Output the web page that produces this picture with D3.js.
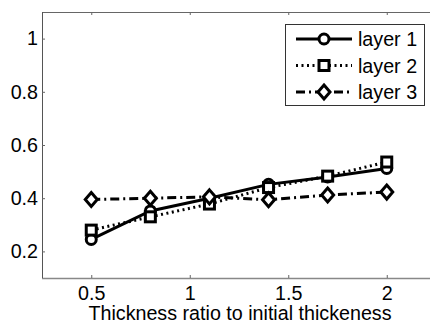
<!DOCTYPE html>
<html><head><meta charset="utf-8">
<script src="https://cdn.jsdelivr.net/npm/d3@7"></script>
<style>body{margin:0;background:#fff}svg{display:block}</style>
</head><body>
<svg id="c" width="430" height="327"></svg>
<script>
const xValues = [0.5, 0.8, 1.1, 1.4, 1.7, 2.0];
const layer1 = [0.245, 0.352, 0.400, 0.452, 0.480, 0.512];
const layer2 = [0.280, 0.330, 0.378, 0.440, 0.483, 0.536];
const layer3 = [0.395, 0.400, 0.405, 0.394, 0.412, 0.423];
const seriesNames = ["layer 1", "layer 2", "layer 3"];
const xTicks = [0.5, 1, 1.5, 2];
const yTicks = [0.2, 0.4, 0.6, 0.8, 1];
const xLabel = "Thickness ratio to initial thickeness";

const svg = d3.select("#c");
const L = 42, R = 436, T = 12, B = 278;
const x = d3.scaleLinear().domain([0.25, 2.25]).range([L, R]);
const y = d3.scaleLinear().domain([0.1, 1.1]).range([B, T]);
const font = "Liberation Sans, Arial, sans-serif";
const fs = 19.7;

// axes box
const ax = svg.append("g");
ax.append("line").attr("x1", L).attr("x2", R).attr("y1", T + 0.5).attr("y2", T + 0.5).attr("stroke", "#666").attr("stroke-width", 1);
ax.append("line").attr("x1", L).attr("x2", R).attr("y1", B + 0.5).attr("y2", B + 0.5).attr("stroke", "#888").attr("stroke-width", 1.5);
ax.append("line").attr("x1", L + 0.5).attr("x2", L + 0.5).attr("y1", T).attr("y2", B).attr("stroke", "#555").attr("stroke-width", 1);

const xb = svg.append("g").attr("transform", `translate(0,${B})`)
  .call(d3.axisBottom(x).tickValues(xTicks).tickSize(-3).tickPadding(8).tickFormat(d3.format("")));
const xt = svg.append("g").attr("transform", `translate(0,${T})`)
  .call(d3.axisTop(x).tickValues(xTicks).tickSize(-3).tickFormat(""));
const yl = svg.append("g").attr("transform", `translate(${L},0)`)
  .call(d3.axisLeft(y).tickValues(yTicks).tickSize(-3).tickPadding(4).tickFormat(d3.format("")));
[xb, xt, yl].forEach(g => {
  g.select(".domain").remove();
  g.selectAll(".tick line").attr("stroke", "#666");
  g.selectAll("text").attr("font-family", font).attr("font-size", fs).attr("fill", "#000");
});
xb.selectAll("text").attr("dy", "0.71em").attr("y", 8);
yl.selectAll("text").attr("x", -4);

svg.append("text").attr("x", 240).attr("y", 320).attr("text-anchor", "middle")
  .attr("font-family", font).attr("font-size", fs).attr("fill", "#000").text(xLabel);

const styles = [
  {data: layer1, dash: null, marker: "circle"},
  {data: layer2, dash: "2,3.5", marker: "square"},
  {data: layer3, dash: "9,4,2,4", marker: "diamond"}
];

function drawMarker(g, type, cx, cy) {
  if (type === "circle") {
    g.append("circle").attr("cx", cx).attr("cy", cy).attr("r", 5).attr("fill", "#fff").attr("stroke", "#000").attr("stroke-width", 3);
  } else if (type === "square") {
    g.append("rect").attr("x", cx - 5).attr("y", cy - 5).attr("width", 10).attr("height", 10).attr("fill", "#fff").attr("stroke", "#000").attr("stroke-width", 3);
  } else {
    g.append("path").attr("d", `M${cx},${cy-7}L${cx+6},${cy}L${cx},${cy+7}L${cx-6},${cy}Z`).attr("fill", "#fff").attr("stroke", "#000").attr("stroke-width", 3);
  }
}

const line = d3.line().x((d, i) => x(xValues[i])).y(d => y(d));
styles.forEach(s => {
  const g = svg.append("g");
  g.append("path").datum(s.data).attr("d", line).attr("fill", "none").attr("stroke", "#000")
    .attr("stroke-width", 3).attr("stroke-dasharray", s.dash);
  s.data.forEach((v, i) => drawMarker(g, s.marker, x(xValues[i]), y(v)));
});

// legend
const lg = svg.append("g");
lg.append("rect").attr("x", 285.5).attr("y", 24.5).attr("width", 139).attr("height", 81).attr("fill", "#fff").attr("stroke", "#333").attr("stroke-width", 1);
styles.forEach((s, i) => {
  const cy = 39 + i * 26.5;
  lg.append("line").attr("x1", 296).attr("x2", 352).attr("y1", cy).attr("y2", cy).attr("stroke", "#000")
    .attr("stroke-width", 3).attr("stroke-dasharray", s.dash);
  drawMarker(lg, s.marker, 324, cy);
  lg.append("text").attr("x", 358).attr("y", cy + 7).attr("font-family", font).attr("font-size", fs).attr("fill", "#000").text(seriesNames[i]);
});
</script>
</body></html>
